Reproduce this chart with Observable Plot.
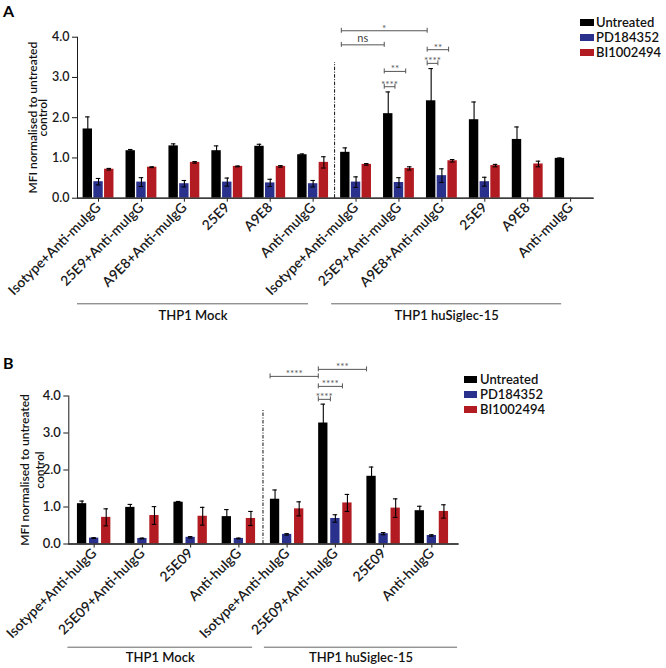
<!DOCTYPE html>
<html><head><meta charset="utf-8">
<script src="https://cdn.jsdelivr.net/npm/d3@7"></script>
<script src="https://cdn.jsdelivr.net/npm/@observablehq/plot@0.6"></script>
<style>
html,body{margin:0;padding:0;background:#fff;}
#root{position:relative;width:666px;height:668px;overflow:hidden;font-family:Lato,sans-serif;}
.panel{position:absolute;left:0;}
.tag{position:absolute;left:3px;font:700 16px/1 Lato,sans-serif;color:#000;}
.leg{position:absolute;width:100px;}
.leg div{font-family:Lato,sans-serif !important;font-size:13px !important;font-weight:600;line-height:14px;color:#111;margin:0 !important;}
.leg svg{margin-right:2px !important;}
#legB svg{margin-right:3px !important;}
#pA [aria-label="y-axis tick label"]{font-size:12.5px;}
#pB [aria-label="y-axis tick label"]{font-size:13px;}
.panel [aria-label="x-axis tick label"]{font-size:13.8px;}
</style></head><body><div id="root"></div>
<script>
// ---------- shared series ----------
const SERIES = ["Untreated", "PD184352", "BI1002494"];
const SERIES_CODES = ["U", "P", "B"];
const SERIES_COLORS = ["#000000", "#2a318c", "#b21b21"];

// ---------- Panel A data ----------
const categoriesA = ["Isotype+Anti-muIgG","25E9+Anti-muIgG","A9E8+Anti-muIgG","25E9","A9E8","Anti-muIgG",
                     "Isotype+Anti-muIgG","25E9+Anti-muIgG","A9E8+Anti-muIgG","25E9","A9E8","Anti-muIgG"];
const untreatedA =    [1.72, 1.18, 1.30, 1.18, 1.29, 1.08, 1.14, 2.10, 2.42, 1.95, 1.46, 0.99];
const untreatedErrA = [0.30, 0.03, 0.05, 0.12, 0.05, 0.02, 0.11, 0.54, 0.80, 0.44, 0.31, 0.01];
const pdA =           [0.41, 0.40, 0.36, 0.40, 0.38, 0.36, 0.40, 0.39, 0.56, 0.41, null, null];
const pdErrA =        [0.08, 0.11, 0.08, 0.10, 0.09, 0.08, 0.13, 0.12, 0.17, 0.11, null, null];
const biA =           [0.72, 0.77, 0.89, 0.79, 0.79, 0.89, 0.84, 0.74, 0.93, 0.81, 0.85, null];
const biErrA =        [0.02, 0.01, 0.02, 0.01, 0.02, 0.14, 0.02, 0.04, 0.03, 0.03, 0.07, null];
const cellLinesA = [{label: "THP1 Mock", first: 0, last: 5}, {label: "THP1 huSiglec-15", first: 6, last: 11}];
const dividerA = [{after: 5, top: 3.37}];
const bracketsA = [
  {from: [6, "U"], to: [8, "U"], label: "*", y: 4.16},
  {from: [6, "U"], to: [7, "U"], label: "ns", y: 3.81},
  {from: [8, "U"], to: [8, "B"], label: "**", y: 3.69},
  {from: [8, "U"], to: [8, "P"], label: "****", y: 3.35},
  {from: [7, "U"], to: [7, "B"], label: "**", y: 3.15},
  {from: [7, "U"], to: [7, "P"], label: "****", y: 2.77}
];

// ---------- Panel B data ----------
const categoriesB = ["Isotype+Anti-huIgG","25E09+Anti-huIgG","25E09","Anti-huIgG",
                     "Isotype+Anti-huIgG","25E09+Anti-huIgG","25E09","Anti-huIgG"];
const untreatedB =    [1.09, 0.99, 1.13, 0.74, 1.21, 3.27, 1.83, 0.90];
const untreatedErrB = [0.07, 0.08, 0.02, 0.19, 0.25, 0.51, 0.25, 0.12];
const pdB =           [0.16, 0.15, 0.18, 0.15, 0.26, 0.69, 0.28, 0.23];
const pdErrB =        [0.01, 0.01, 0.02, 0.01, 0.02, 0.10, 0.03, 0.02];
const biB =           [0.72, 0.77, 0.75, 0.69, 0.95, 1.11, 0.97, 0.88];
const biErrB =        [0.23, 0.24, 0.24, 0.19, 0.19, 0.23, 0.25, 0.18];
const cellLinesB = [{label: "THP1 Mock", first: 0, last: 3}, {label: "THP1 huSiglec-15", first: 4, last: 7}];
const dividerB = [{after: 3, top: 3.61}];
const bracketsB = [
  {from: [5, "U"], to: [6, "U"], label: "***", y: 4.72},
  {from: [4, "U"], to: [5, "U"], label: "****", y: 4.53},
  {from: [5, "U"], to: [5, "B"], label: "****", y: 4.26},
  {from: [5, "U"], to: [5, "P"], label: "****", y: 3.91}
];

const yTicks = [0, 1, 2, 3, 4];
const yTitle = "MFI normalised to untreated\ncontrol";

// ---------- builder ----------
const key = (g, c) => `${g}|${c}`;

function buildPanel(cfg) {
  const n = cfg.categories.length;
  const domain = [];
  for (let g = 0; g < n; g++) {
    for (const c of SERIES_CODES) domain.push(key(g, c));
    if (g < n - 1) domain.push(key(g, "_"));
  }
  const rows = [];
  cfg.series.forEach(([vals, errs], si) => vals.forEach((v, g) => {
    if (v != null) rows.push({key: key(g, SERIES_CODES[si]), series: SERIES[si], v, e: errs[g]});
  }));
  const caps = cfg.brackets.flatMap(b => [{k: key(...b.from), y: b.y}, {k: key(...b.to), y: b.y}]);
  const L = cfg.layout;

  const bracketMid = (data, facets, channels, scales) => ({
    data, facets,
    channels: {x: {value: data.map(b => (scales.x(key(...b.from)) + scales.x(key(...b.to))) / 2)}}
  });

  const lineMarks = cfg.cellLines.flatMap((grp, i) => {
    const spec = L.lines[i](grp);
    const opts = {y: () => 0, x1: () => spec.x1, x2: () => spec.x2, dy: L.lineDy,
      insetLeft: spec.insetLeft, insetRight: spec.insetRight, stroke: "#666", strokeWidth: 1};
    const center = (data, facets, channels, scales) => {
      const x = scales.x, bw = x.bandwidth();
      const left = x(spec.x1) + spec.insetLeft;
      const right = x(spec.x2) + bw - spec.insetRight;
      return {data, facets, channels: {x: {value: data.map(() => (left + right) / 2 - bw / 2)}}};
    };
    return [
      Plot.ruleY([grp], opts),
      Plot.text([grp], {text: "label", x: () => spec.x1, y: () => 0, dy: L.lineTextDy,
        lineAnchor: "bottom", fontSize: 13, fontWeight: 600, fill: "#111", initializer: center})
    ];
  });

  return Plot.plot({
    width: 666, height: L.height,
    marginTop: L.marginTop, marginBottom: L.marginBottom, marginLeft: L.marginLeft, marginRight: L.marginRight,
    style: {fontFamily: "Lato, sans-serif", fontSize: "13px", fontWeight: 600, color: "#1a1a1a", background: "transparent", overflow: "visible"},
    x: {type: "band", domain, paddingInner: L.paddingInner, paddingOuter: L.paddingOuter, align: L.align, round: false,
        ticks: cfg.categories.map((c, g) => key(g, "P")), tickFormat: k => cfg.categories[+k.split("|")[0]],
        tickRotate: -45, tickSize: 4, tickPadding: 3, label: null, line: true},
    y: {domain: [0, 4], ticks: yTicks, tickFormat: d3.format(".1f"), tickSize: 5, tickPadding: 3, label: null, line: true},
    color: {domain: SERIES, range: SERIES_COLORS},
    marks: [
      Plot.barY(rows, {x: "key", y: "v", fill: "series"}),
      Plot.ruleX(rows, {x: "key", y1: d => d.v - d.e, y2: d => d.v + d.e, stroke: "#000", strokeWidth: 1.1}),
      Plot.tickY(rows, {x: "key", y: d => d.v + d.e, stroke: "#000", strokeWidth: 1.1, insetLeft: L.capInset, insetRight: L.capInset}),
      Plot.tickY(rows.filter(d => d.series !== SERIES[0]), {x: "key", y: d => d.v - d.e, stroke: "#000", strokeWidth: 1.1, insetLeft: L.capInset, insetRight: L.capInset}),
      Plot.ruleY([0], {stroke: "#333", strokeWidth: 1.3}),
      Plot.ruleX(cfg.divider, {x: d => key(d.after, "_"), y1: () => 0, y2: "top", stroke: "#111", strokeWidth: 1, strokeDasharray: "3.5,1.5,1,1.5"}),
      Plot.link(cfg.brackets, {x1: d => key(...d.from), x2: d => key(...d.to), y1: "y", y2: "y", stroke: "#555", strokeWidth: 1, dx: L.bracketDx}),
      Plot.ruleX(caps, {x: "k", y1: "y", y2: "y", insetTop: -2.5, insetBottom: -2.5, stroke: "#555", strokeWidth: 1, dx: L.bracketDx}),
      Plot.text(cfg.brackets.filter(b => b.label !== "ns"), {x: d => key(...d.from), y: "y", text: "label", dx: L.bracketDx, dy: 1,
        lineAnchor: "bottom", fontSize: 10, fontWeight: 400, fill: "#555", initializer: bracketMid}),
      Plot.text(cfg.brackets.filter(b => b.label === "ns"), {x: d => key(...d.from), y: "y", text: "label", dx: L.bracketDx, dy: -2.5,
        lineAnchor: "bottom", fontSize: 11, fontWeight: 400, fill: "#444", initializer: bracketMid}),
      ...lineMarks,
      Plot.text([yTitle], {frameAnchor: "left", textAnchor: "middle", rotate: -90, dx: L.titleDx, lineAnchor: "bottom",
        lineHeight: L.titleLineHeight, fontSize: 12, fontWeight: 600, fill: "#111"})
    ]
  });
}

const plotA = buildPanel({
  categories: categoriesA,
  series: [[untreatedA, untreatedErrA], [pdA, pdErrA], [biA, biErrA]],
  cellLines: cellLinesA, divider: dividerA, brackets: bracketsA,
  layout: {
    height: 330, marginTop: 36.7, marginBottom: 132.3, marginLeft: 77, marginRight: 73,
    paddingInner: 0.124, paddingOuter: 0.607, align: 0.43, capInset: 2.45, bracketDx: -4,
    lineDy: 105.6, lineTextDy: 121.8, titleDx: -30.5, titleLineHeight: 0.85,
    lines: [
      g => ({x1: key(g.first, "U"), x2: key(g.last, "U"), insetLeft: -5.6, insetRight: -1.4}),
      g => ({x1: key(g.first, "U"), x2: key(g.last, "U"), insetLeft: -9, insetRight: 3})
    ]
  }
});

const plotB = buildPanel({
  categories: categoriesB,
  series: [[untreatedB, untreatedErrB], [pdB, pdErrB], [biB, biErrB]],
  cellLines: cellLinesB, divider: dividerB, brackets: bracketsB,
  layout: {
    height: 333, marginTop: 60.5, marginBottom: 124.5, marginLeft: 68.3, marginRight: 208,
    paddingInner: 0.229, paddingOuter: 0.77, align: 0.465, capInset: 2.4, bracketDx: -5,
    lineDy: 103.2, lineTextDy: 117.5, titleDx: -25.3, titleLineHeight: 1.2,
    lines: [
      g => ({x1: key(g.first, "U"), x2: key(g.last, "B"), insetLeft: -9.5, insetRight: 3}),
      g => ({x1: key(g.first, "U"), x2: key(g.last, "B"), insetLeft: -6, insetRight: -9})
    ]
  }
});

const root = document.getElementById("root");
function place(el, id, cls, left, top) {
  const wrap = document.createElement("div");
  wrap.id = id; wrap.className = cls;
  wrap.style.left = left + "px"; wrap.style.top = top + "px";
  wrap.appendChild(el); root.appendChild(wrap);
}
place(plotA, "pA", "panel", 0, 0);
place(plotB, "pB", "panel", 0, 335);

const legOpts = {legend: "swatches", columns: 1, swatchWidth: 14, swatchHeight: 7};
place(plotA.legend("color", legOpts), "legA", "leg", 580, 15);
place(plotB.legend("color", {...legOpts, swatchWidth: 13}), "legB", "leg", 464, 372);

for (const [t, top] of [["A", 3], ["B", 355]]) {
  const d = document.createElement("div");
  d.className = "tag"; d.style.top = top + "px"; d.textContent = t;
  root.appendChild(d);
}
</script></body></html>
